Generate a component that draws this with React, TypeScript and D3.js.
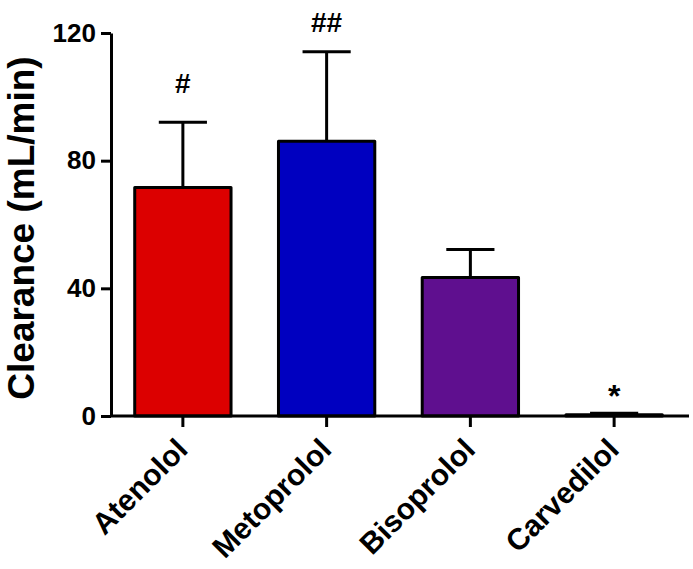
import * as d3 from 'd3'
import { useEffect, useRef } from 'react'

const drugs = ['Atenolol', 'Metoprolol', 'Bisoprolol', 'Carvedilol']
const means = [71.6, 86.1, 43.4, 0.4]
const errors = [20.4, 28.0, 8.8, 0.5]
const marks = ['#', '##', '', '*']
const barColors = ['#dc0000', '#0000c0', '#5f0f8f', '#ffffff']
const yTicks = [0, 40, 80, 120]

const FONT = '"Liberation Sans", Arial, Helvetica, sans-serif'
// gap between error cap and mark baseline
const markGap: Record<string, number> = { '#': 29, '##': 20, '*': 6 }

const App = () => {
  const ref = useRef<SVGSVGElement>(null)

  useEffect(() => {
    if (!ref.current) return
    const svg = d3.select(ref.current)
    svg.selectAll('*').remove()

    const width = 693
    const height = 569
    const left = 111
    const right = 689
    const top = 33
    const bottom = 416

    const x = d3.scaleBand<string>()
      .domain(drugs)
      .range([left, left + 575])
      .paddingInner(0.33)
      .paddingOuter(0.165)

    const y = d3.scaleLinear().domain([0, 120]).range([bottom, top])

    svg.attr('width', width).attr('height', height)

    const rows = drugs.map((d, i) => ({ name: d, mean: means[i], err: errors[i], mark: marks[i], color: barColors[i] }))

    // bars
    svg.selectAll('.bar')
      .data(rows)
      .enter()
      .append('rect')
      .attr('class', 'bar')
      .attr('x', d => x(d.name)!)
      .attr('y', d => y(d.mean))
      .attr('width', x.bandwidth())
      .attr('height', d => y(0) - y(d.mean))
      .attr('fill', d => d.color)
      .attr('stroke', '#000')
      .attr('stroke-width', 3)
      .attr('stroke-linejoin', 'round')

    // error bars (upper only)
    const capW = x.bandwidth() / 2
    const eb = svg.selectAll('.err')
      .data(rows)
      .enter()
      .append('g')
      .attr('class', 'err')
      .attr('stroke', '#000')
      .attr('stroke-width', 3)

    eb.append('line')
      .attr('x1', d => x(d.name)! + x.bandwidth() / 2)
      .attr('x2', d => x(d.name)! + x.bandwidth() / 2)
      .attr('y1', d => y(d.mean))
      .attr('y2', d => y(d.mean + d.err))

    eb.append('line')
      .attr('x1', d => x(d.name)! + x.bandwidth() / 2 - capW / 2)
      .attr('x2', d => x(d.name)! + x.bandwidth() / 2 + capW / 2)
      .attr('y1', d => y(d.mean + d.err))
      .attr('y2', d => y(d.mean + d.err))

    // significance marks
    svg.selectAll('.mark')
      .data(rows.filter(d => d.mark))
      .enter()
      .append('text')
      .attr('class', 'mark')
      .attr('x', d => x(d.name)! + x.bandwidth() / 2)
      .attr('y', d => y(d.mean + d.err) - markGap[d.mark])
      .attr('text-anchor', 'middle')
      .style('font-family', FONT)
      .style('font-weight', 'bold')
      .style('font-size', d => (d.mark === '*' ? '32px' : '28px'))
      .text(d => d.mark)

    // y axis
    const yAxis = svg.append('g')
      .attr('transform', `translate(${left},0)`)
      .call(d3.axisLeft(y).tickValues(yTicks).tickSize(10).tickPadding(5).tickSizeOuter(0))
    yAxis.select('.domain').attr('stroke-width', 3)
    yAxis.selectAll('.tick line').attr('stroke-width', 3)
    yAxis.selectAll('text')
      .style('font-family', FONT)
      .style('font-weight', 'bold')
      .style('font-size', '26px')
      .attr('fill', '#000')

    // x axis
    const xAxis = svg.append('g')
      .attr('transform', `translate(0,${bottom})`)
      .call(d3.axisBottom(x).tickSize(11).tickSizeOuter(0).tickFormat(() => ''))
    xAxis.select('.domain').attr('d', `M${left},0H${right}`).attr('stroke-width', 3)
    xAxis.selectAll('.tick line').attr('stroke-width', 3)

    svg.selectAll('.xlabel')
      .data(drugs)
      .enter()
      .append('text')
      .attr('class', 'xlabel')
      .attr('transform', d => `translate(${x(d)! + x.bandwidth() / 2 - 1},${bottom + 28}) rotate(-45)`)
      .attr('text-anchor', 'end')
      .attr('dy', '0.35em')
      .style('font-family', FONT)
      .style('font-weight', 'bold')
      .style('font-size', '30px')
      .text(d => d)

    // y axis title
    svg.append('text')
      .attr('transform', `translate(34,228) rotate(-90)`)
      .attr('text-anchor', 'middle')
      .style('font-family', FONT)
      .style('font-weight', 'bold')
      .style('font-size', '37px')
      .text('Clearance (mL/min)')
  }, [])

  return (
    <div style={{ position: 'absolute', left: 0, top: 0 }}>
      <svg ref={ref} style={{ display: 'block', background: '#fff' }} />
    </div>
  )
}

export default App
